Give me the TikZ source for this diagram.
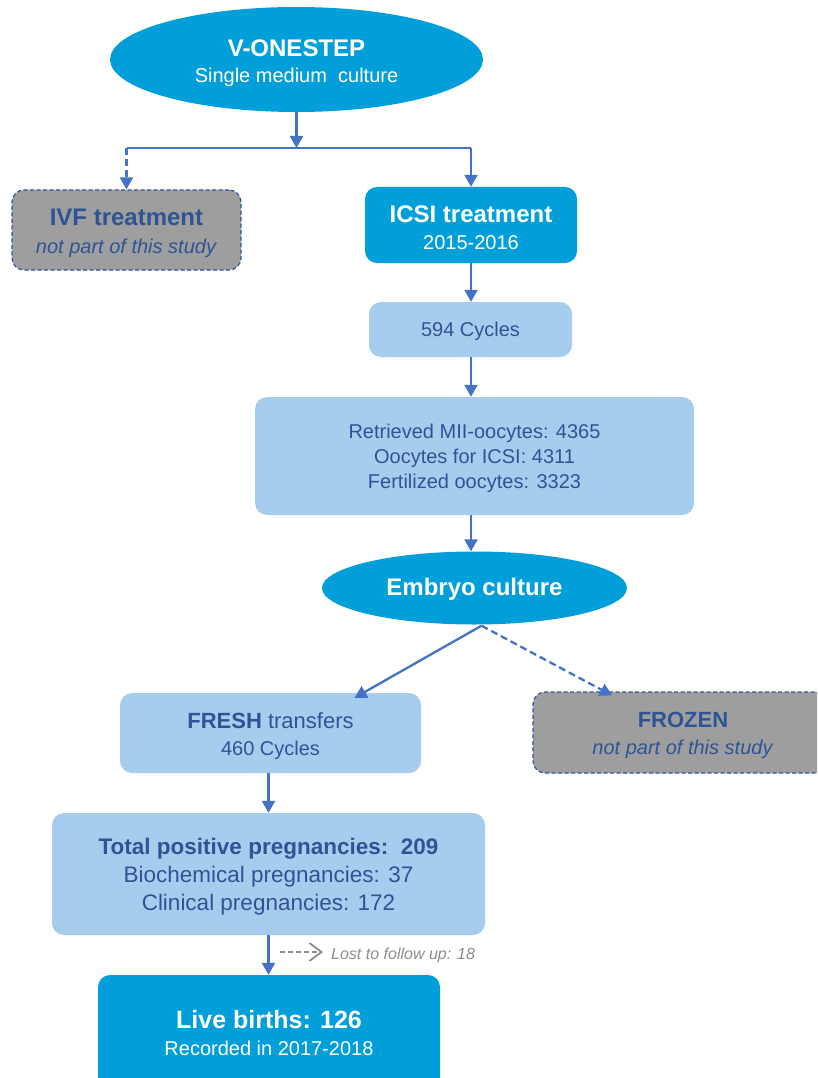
\documentclass[tikz,border=0pt]{standalone}
\usepackage{fontspec}
\setmainfont{Liberation Sans}
\usetikzlibrary{arrows.meta,shapes.geometric}
\definecolor{cyanbox}{RGB}{0,159,218}
\definecolor{lightfill}{RGB}{167,205,238}
\definecolor{darktext}{RGB}{47,84,150}
\definecolor{arrowblue}{RGB}{68,114,196}
\definecolor{grayfill}{RGB}{158,158,158}
\definecolor{losttext}{RGB}{140,140,140}
\tikzset{
  fa/.style={font=\fontsize{20}{27}\selectfont},
  arr/.style={draw=arrowblue, line width=2.3pt, -{Triangle[width=13pt,length=12pt]}},
  plainline/.style={draw=arrowblue, line width=2.3pt},
  dash6/.style={dash pattern=on 7pt off 4pt},
  basebox/.style={rectangle, rounded corners=12pt, align=center, inner sep=0pt, fa},
  bluebox/.style={basebox, fill=cyanbox, text=white},
  lightbox/.style={basebox, fill=lightfill, text=darktext},
  graybox/.style={basebox, fill=grayfill, draw=darktext, dash pattern=on 4pt off 2.5pt, line width=1.2pt, text=darktext},
  oval/.style={ellipse, fill=cyanbox, text=white, inner sep=0pt, align=center, fa},
  lostarr/.style={draw=losttext, line width=1.8pt, dash pattern=on 5pt off 3pt, -{Straight Barb[length=12pt,width=18pt,line width=1.8pt]}},
}
\newcommand{\hb}[1]{{\fontsize{24}{27}\selectfont\bfseries #1}}
\newcommand{\tp}[1]{\rule{0pt}{#1pt}}
\begin{document}
\begin{tikzpicture}[x=1pt,y=-1pt]
\clip (0,0) rectangle (817,1078);
\fill[white] (0,0) rectangle (817,1078);

% nodes
\node[oval, minimum width=373pt, minimum height=105pt] (top) at (296.5,59.5)
  {\tp{24.5}\hb{V-ONESTEP}\\[-1pt]Single medium\ \ culture};
\node[graybox, minimum width=229pt, minimum height=80pt] (ivf) at (126.5,230)
  {\tp{23.5}\hb{IVF treatment}\\[1pt]\textit{not part of this study}};
\node[bluebox, minimum width=212pt, minimum height=76pt] (icsi) at (471,225)
  {\tp{21.5}\hb{ICSI treatment}\\2015-2016};
\node[lightbox, minimum width=203pt, minimum height=55pt] (cyc) at (470.5,329.5)
  {\tp{18.6}594 Cycles};
\node[lightbox, minimum width=439pt, minimum height=118pt, font=\fontsize{20}{25}\selectfont] (ret) at (474.5,456)
  {\tp{18.6}Retrieved MII-oocytes: 4365\\Oocytes for ICSI: 4311\\Fertilized oocytes: 3323};
\node[oval, minimum width=305pt, minimum height=73pt] (emb) at (474.5,588)
  {\tp{19.5}\hb{Embryo culture}};
\node[lightbox, minimum width=301pt, minimum height=80pt] (fresh) at (270.5,733)
  {\tp{22}{\fontsize{22}{27}\selectfont\textbf{FRESH} transfers}\\460 Cycles};
\node[graybox, minimum width=300pt, minimum height=81pt] (frozen) at (683,732.5)
  {\tp{22}{\fontsize{22}{27}\selectfont\bfseries FROZEN}\\\textit{not part of this study}};
\node[lightbox, minimum width=433pt, minimum height=122pt, font=\fontsize{22.5}{28}\selectfont] (tot) at (268.5,874)
  {\tp{22.4}\textbf{Total positive pregnancies:\ \ 209}\\Biochemical pregnancies: 37\\Clinical pregnancies: 172};
\node[bluebox, minimum width=342pt, minimum height=116pt] (live) at (269,1033)
  {{\fontsize{25}{28}\selectfont\bfseries Live births: 126}\\Recorded in 2017-2018};
\node[anchor=west, text=losttext, font=\fontsize{16}{18}\selectfont\itshape, inner sep=0pt] (lost) at (331,955)
  {Lost to follow up: 18};

% connectors
\coordinate (split) at (top.south |- 0,148);
\draw[arr] (top.south) -- (split);
\draw[plainline] (split -| ivf.north) -- (split -| icsi.north);
\draw[arr, dash6] (split -| ivf.north) -- (ivf.north);
\draw[arr] (split -| icsi.north) -- (icsi.north);
\draw[arr] (icsi.south) -- (cyc.north -| icsi.south);
\draw[arr] (icsi.south |- cyc.south) -- (icsi.south |- ret.north);
\draw[arr] (icsi.south |- ret.south) -- (icsi.south |- emb.north);
\coordinate (eb) at ([xshift=7pt,yshift=-1pt]emb.south);
\coordinate (fr) at ([xshift=84pt,yshift=-5pt]fresh.north);
\coordinate (fz) at ([xshift=-71pt,yshift=-4pt]frozen.north);
\draw[arr] (eb) -- (fr);
\draw[arr, dash6] (eb) -- (fz);
\draw[arr] (tot.north |- fresh.south) -- (tot.north);
\draw[arr] (tot.south) -- (tot.south |- live.north);
\coordinate (ls) at (280,952);
\coordinate (le) at (323,952);
\draw[lostarr] (ls) -- (le);
\end{tikzpicture}
\end{document}
